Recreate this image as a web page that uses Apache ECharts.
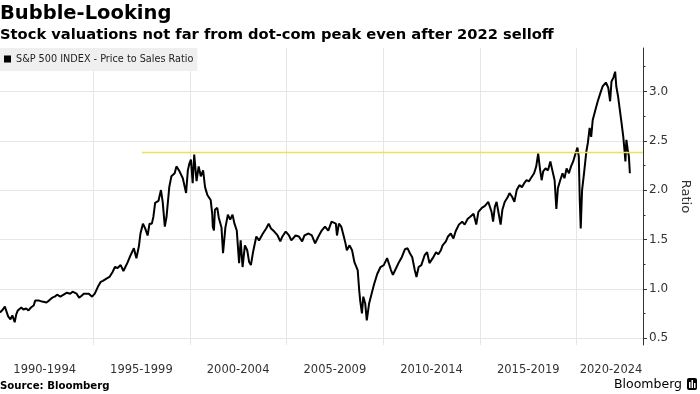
<!DOCTYPE html>
<html><head><meta charset="utf-8">
<script src="https://cdn.jsdelivr.net/npm/echarts@6/dist/echarts.min.js"></script>
<style>html,body{margin:0;padding:0;background:#fff}#c{width:700px;height:394px}</style>
</head><body><div id="c"></div>
<script>
const FONT = 'DejaVu Sans';
const titleText = 'Bubble-Looking';
const subtitleText = 'Stock valuations not far from dot-com peak even after 2022 selloff';
const sourceText = 'Source: Bloomberg';
const seriesName = 'S&P 500 INDEX - Price to Sales Ratio';
const yAxisName = 'Ratio';

// x axis: 5-year bands
const xSplitYears = [1995, 2000, 2005, 2010, 2015, 2020];
const xLabelYears = [1992.5, 1997.5, 2002.5, 2007.5, 2012.5, 2017.5, 2022.5];
const xTickLabels = ['1990-1994', '1995-1999', '2000-2004', '2005-2009', '2010-2014', '2015-2019', '2020-2024'];
const xMin = 1990.19, xMax = 2023.43;

// y axis
const yTicks = [0.5, 1.0, 1.5, 2.0, 2.5, 3.0];
const yMin = 0.43, yMax = 3.44;

// dot-com peak reference level
const peakLevel = 2.38;
const peakLineStart = 1997.53;

// series: S&P 500 price-to-sales ratio
const years = [
1990.19,1990.34,1990.44,1990.52,1990.61,1990.73,1990.83,1990.95,1991.03,1991.11,1991.29,1991.40,1991.54,1991.66,1991.79,1991.93,
1992.01,1992.11,1992.21,1992.37,1992.47,1992.59,1992.72,1992.89,1993.02,1993.14,1993.31,1993.48,1993.65,1993.82,1993.94,
1994.04,1994.15,1994.28,1994.41,1994.52,1994.61,1994.78,1994.95,1995.09,1995.25,1995.40,1995.51,1995.67,1995.85,
1996.01,1996.13,1996.27,1996.43,1996.57,1996.67,1996.77,1996.94,1997.11,1997.24,1997.37,1997.45,1997.58,1997.70,1997.82,1997.92,
1998.04,1998.12,1998.21,1998.38,1998.51,1998.60,1998.71,1998.80,1998.94,1999.05,1999.22,1999.31,1999.39,1999.47,1999.56,1999.64,1999.81,1999.90,1999.98,
2000.06,2000.15,2000.23,2000.35,2000.46,2000.57,2000.69,2000.79,2000.91,2000.99,2001.08,2001.16,2001.19,2001.25,2001.30,2001.37,2001.42,2001.50,2001.64,2001.72,2001.84,2001.97,
2002.09,2002.21,2002.31,2002.43,2002.55,2002.63,2002.73,2002.85,2002.97,2003.07,2003.16,2003.27,2003.44,2003.58,2003.78,2003.95,
2004.08,2004.20,2004.37,2004.54,2004.68,2004.79,2004.96,2005.13,2005.25,2005.47,2005.64,2005.81,2005.93,
2006.14,2006.31,2006.48,2006.65,2006.82,2006.99,2007.16,2007.33,2007.41,2007.55,2007.61,2007.71,2007.83,2007.95,
2008.05,2008.12,2008.26,2008.39,2008.51,2008.59,2008.68,2008.76,2008.81,2008.90,2008.97,2009.07,2009.15,2009.27,2009.40,2009.52,2009.69,2009.86,
2010.03,2010.20,2010.28,2010.40,2010.50,2010.62,2010.79,2010.96,2011.12,2011.26,2011.38,2011.50,2011.63,2011.72,2011.83,2011.97,
2012.14,2012.27,2012.39,2012.56,2012.73,2012.85,2012.98,2013.07,2013.24,2013.35,2013.49,2013.63,2013.74,2013.91,
2014.08,2014.21,2014.37,2014.50,2014.67,2014.81,2014.92,2015.10,2015.26,2015.43,2015.52,2015.60,2015.68,2015.77,2015.86,2015.97,
2016.07,2016.16,2016.28,2016.44,2016.53,2016.67,2016.78,2016.90,2017.04,2017.17,2017.29,2017.41,2017.54,2017.63,2017.80,2017.91,
2018.01,2018.10,2018.19,2018.27,2018.39,2018.52,2018.64,2018.72,2018.86,2018.95,2019.03,2019.15,2019.27,2019.37,2019.48,2019.60,2019.71,2019.82,2019.94,
2020.04,2020.11,2020.16,2020.21,2020.28,2020.38,2020.50,2020.58,2020.67,2020.75,2020.83,2020.95,
2021.09,2021.22,2021.34,2021.51,2021.63,2021.73,2021.80,2021.90,2021.99,
2022.05,2022.14,2022.24,2022.32,2022.41,2022.47,2022.52,2022.57,2022.64,2022.70,2022.75
];
const ratio = [
0.76,0.79,0.82,0.83,0.72,0.69,0.73,0.66,0.74,0.78,0.81,0.79,0.80,0.78,0.81,0.83,
0.88,0.86,0.88,0.87,0.89,0.86,0.88,0.91,0.92,0.94,0.92,0.94,0.96,0.95,0.97,
0.98,0.95,0.91,0.93,0.95,0.96,0.95,0.92,0.95,1.02,1.07,1.08,1.10,1.12,
1.17,1.22,1.21,1.24,1.18,1.22,1.26,1.34,1.41,1.31,1.43,1.56,1.66,1.61,1.54,1.66,
1.66,1.73,1.87,1.89,2.00,1.88,1.63,1.73,2.03,2.14,2.17,2.24,2.24,2.19,2.20,2.12,1.97,2.20,2.27,
2.31,2.07,2.36,2.09,2.24,2.14,2.20,2.03,1.95,1.93,1.90,1.76,1.63,1.59,1.80,1.82,1.82,1.72,1.62,1.36,1.62,1.75,
1.70,1.75,1.66,1.59,1.26,1.49,1.22,1.44,1.39,1.27,1.24,1.37,1.53,1.49,1.56,1.61,
1.66,1.61,1.58,1.54,1.48,1.53,1.58,1.54,1.49,1.54,1.53,1.48,1.54,
1.56,1.54,1.46,1.53,1.59,1.63,1.59,1.68,1.70,1.66,1.54,1.66,1.63,1.54,
1.46,1.39,1.44,1.39,1.27,1.29,1.19,0.98,0.88,0.75,0.92,0.85,0.68,0.85,0.95,1.04,1.15,1.22,
1.24,1.31,1.32,1.19,1.14,1.19,1.26,1.32,1.40,1.41,1.36,1.32,1.19,1.12,1.22,1.24,
1.34,1.37,1.26,1.31,1.37,1.35,1.39,1.44,1.48,1.53,1.56,1.51,1.58,1.65,
1.68,1.65,1.71,1.73,1.76,1.65,1.78,1.82,1.84,1.88,1.88,1.78,1.68,1.83,1.88,1.76,
1.65,1.80,1.88,1.93,1.97,1.93,1.88,2.00,2.05,2.03,2.07,2.10,2.09,2.12,2.17,2.24,
2.37,2.22,2.10,2.19,2.22,2.20,2.29,2.22,2.10,1.81,2.02,2.10,2.17,2.12,2.22,2.17,2.24,2.29,2.37,
2.43,2.34,1.90,1.61,2.00,2.17,2.39,2.48,2.63,2.54,2.71,2.80,
2.90,2.98,3.05,3.09,3.04,2.90,3.10,3.14,3.20,
3.05,2.95,2.80,2.68,2.54,2.41,2.29,2.51,2.41,2.34,2.17
];

const seriesData = years.map((y, i) => [y, ratio[i]]);

const chart = echarts.init(document.getElementById('c'), null, {renderer: 'canvas'});
chart.setOption({
  animation: false,
  backgroundColor: '#ffffff',
  title: [
    {text: titleText, left: 0, top: 4, padding: 0,
     textStyle: {fontFamily: FONT, fontSize: 19.5, fontWeight: 'bold', color: '#000'}},
    {text: subtitleText, left: 0, top: 28, padding: 0,
     textStyle: {fontFamily: FONT, fontSize: 14.7, fontWeight: 'bold', color: '#000'}},
    {text: sourceText, left: 0, top: 381, padding: 0,
     textStyle: {fontFamily: FONT, fontSize: 10.2, fontWeight: 'bold', color: '#000'}},
    {text: 'Bloomberg', right: 18, top: 378, padding: 0,
     textStyle: {fontFamily: FONT, fontSize: 12.5, fontWeight: 'normal', color: '#000'}}
  ],
  graphic: [
    {type: 'group', right: 3, top: 378, children: [
      {type: 'rect', shape: {x: 0, y: 0, width: 10, height: 12, r: 2}, style: {fill: '#000'}},
      {type: 'rect', shape: {x: 2, y: 4, width: 1.5, height: 6}, style: {fill: '#fff'}},
      {type: 'rect', shape: {x: 4.5, y: 2, width: 1.5, height: 8}, style: {fill: '#fff'}},
      {type: 'rect', shape: {x: 7, y: 5, width: 1.5, height: 5}, style: {fill: '#fff'}}
    ]}
  ],
  legend: {
    left: 0, top: 48, padding: [6, 4, 7, 4],
    backgroundColor: '#efefef',
    itemWidth: 7, itemHeight: 7, icon: 'rect',
    selectedMode: false,
    textStyle: {fontFamily: FONT, fontSize: 9.7, color: '#222', lineHeight: 10},
    data: [{name: seriesName, itemStyle: {color: '#000'}}]
  },
  grid: {left: 0, right: 44, top: 48, bottom: 49, containLabel: false},
  xAxis: {
    type: 'value', min: xMin, max: xMax,
    axisLine: {show: false},
    axisTick: {show: false, customValues: xSplitYears},
    splitLine: {show: true, lineStyle: {color: '#e6e6e6', width: 1}},
    axisLabel: {
      show: true, customValues: xLabelYears, margin: 19,
      fontFamily: FONT, fontSize: 11.5, color: '#333',
      formatter: function (v) {
        const i = xLabelYears.indexOf(v);
        if (i < 0) return '';
        return i === xLabelYears.length - 1 ? '{last|' + xTickLabels[i] + '}' : xTickLabels[i];
      },
      rich: {last: {fontFamily: FONT, fontSize: 11.5, color: '#333', padding: [0, 28, 0, 0]}}
    }
  },
  yAxis: {
    type: 'value', position: 'right', min: yMin, max: yMax,
    axisLine: {show: true, lineStyle: {color: '#333', width: 1}},
    axisTick: {show: true, length: 4, customValues: yTicks, lineStyle: {color: '#333'}},
    minorTick: {show: true, splitNumber: 2, length: 2.5, lineStyle: {color: '#333'}},
    splitLine: {show: true, lineStyle: {color: '#e6e6e6', width: 1}},
    axisLabel: {
      customValues: yTicks, margin: 6, fontFamily: FONT, fontSize: 12, color: '#333',
      formatter: function (v) { return v.toFixed(1); }
    },
    name: yAxisName, nameLocation: 'middle', nameRotate: -90, nameGap: 31,
    nameTextStyle: {fontFamily: FONT, fontSize: 13, color: '#333'}
  },
  series: [{
    type: 'line', name: seriesName, data: seriesData,
    showSymbol: false, symbol: 'none',
    lineStyle: {color: '#000', width: 2},
    itemStyle: {color: '#000'},
    z: 3,
    markLine: {
      silent: true, symbol: ['none', 'none'], label: {show: false},
      lineStyle: {color: '#ece44e', width: 1.3, type: 'solid'},
      emphasis: {disabled: true},
      data: [[{coord: [peakLineStart, peakLevel]}, {coord: [xMax, peakLevel]}]]
    }
  }]
});
</script></body></html>
